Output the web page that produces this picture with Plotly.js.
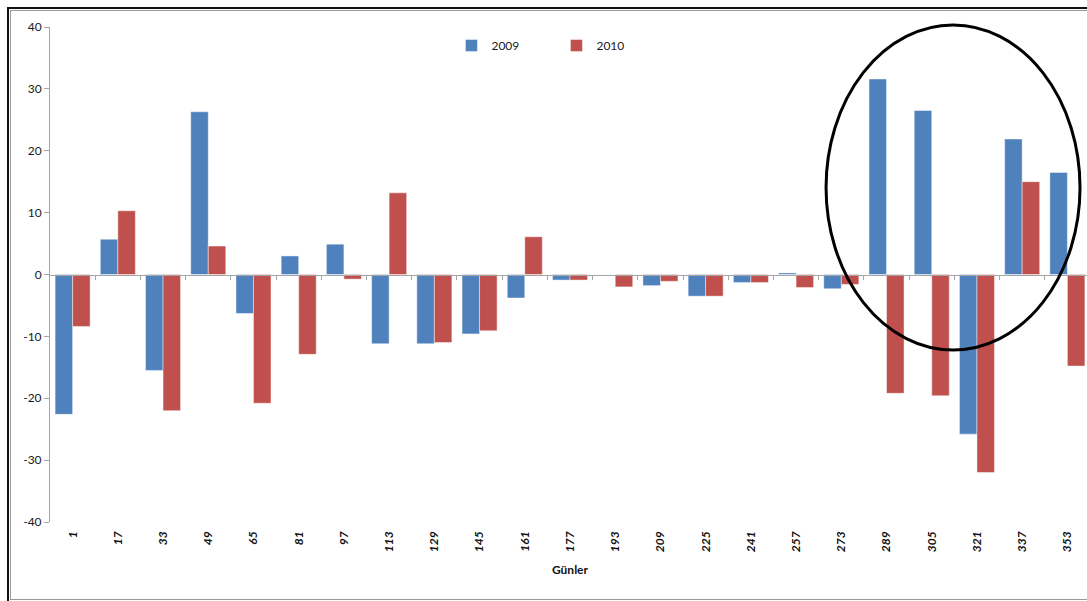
<!DOCTYPE html>
<html>
<head>
<meta charset="utf-8">
<script src="https://cdn.plot.ly/plotly-3.0.1.min.js"></script>
<style>
  html, body { margin: 0; padding: 0; background: #fff; overflow: hidden; width: 1087px; height: 601px; }
  #chart { position: absolute; left: 0; top: 0; width: 1100px; height: 601px; }
  #frameOuter { position: absolute; left: 7px; top: 7px; width: 1200px; height: 700px;
                border-top: 2px solid #111; border-left: 2px solid #111; pointer-events: none; }
  #frameInner { position: absolute; left: 10px; top: 10px; width: 1200px; height: 588px;
                border-top: 1px solid #9a9a9a; border-left: 1px solid #9a9a9a; border-bottom: 1px solid #9a9a9a;
                pointer-events: none; }
</style>
</head>
<body>
<div id="chart"></div>
<div id="frameOuter"></div>
<div id="frameInner"></div>
<script>
// Day-of-year categories (every 16 days)
const days = ['1','17','33','49','65','81','97','113','129','145','161','177',
              '193','209','225','241','257','273','289','305','321','337','353'];

// Values per day for each year
const values2009 = [-22.6, 5.7, -15.5, 26.3, -6.3, 3.0, 4.9, -11.2, -11.2, -9.6, -3.8, -0.9,
                    0.0, -1.8, -3.5, -1.3, 0.25, -2.3, 31.6, 26.5, -25.8, 21.9, 16.5];
const values2010 = [-8.4, 10.3, -22.0, 4.6, -20.8, -12.9, -0.75, 13.2, -11.0, -9.1, 6.1, -0.9,
                    -2.0, -1.1, -3.5, -1.3, -2.1, -1.6, -19.2, -19.6, -32.0, 15.0, -14.8];

const seriesNames = ['2009', '2010'];
const yTicks = [-40, -30, -20, -10, 0, 10, 20, 30, 40];

// Category boundaries where the small tick marks sit on the zero line
const boundaries = days.map((d, i) => i + 0.5);

const baseFont = { family: 'Lato, "Liberation Sans", sans-serif', size: 12, color: '#1a1a1a' };

const traces = [
  {
    type: 'bar', name: seriesNames[0], x: days, y: values2009,
    marker: { color: '#4F81BD', line: { color: 'rgba(255,255,255,0.45)', width: 1 } },
    hoverinfo: 'x+y'
  },
  {
    type: 'bar', name: seriesNames[1], x: days, y: values2010,
    marker: { color: '#C0504D', line: { color: 'rgba(255,255,255,0.45)', width: 1 } },
    hoverinfo: 'x+y'
  },
  // carrier for the zero-line axis with boundary ticks
  { type: 'scatter', x: [null], y: [null], xaxis: 'x2', yaxis: 'y', showlegend: false, hoverinfo: 'skip' }
];

const layout = {
  width: 1100, height: 601,
  margin: { l: 50, r: 10, t: 27, b: 79 },
  paper_bgcolor: '#ffffff', plot_bgcolor: '#ffffff',
  font: baseFont,
  barmode: 'group', bargap: 0.225, bargroupgap: 0,
  showlegend: true,
  legend: {
    orientation: 'h', x: 0.386, y: 0.992, xanchor: 'left', yanchor: 'top',
    font: { family: baseFont.family, size: 12, color: '#1a1a1a' },
    bgcolor: 'rgba(0,0,0,0)', entrywidth: 60, traceorder: 'normal'
  },
  xaxis: {
    type: 'category', categoryorder: 'array', categoryarray: days,
    range: [-0.5, days.length - 0.5],
    showline: false, showgrid: false, zeroline: false, ticks: '',
    tickangle: -90, ticklabelstandoff: 6,
    tickfont: { family: baseFont.family, size: 12, color: '#111', weight: 'bold', style: 'italic' },
    title: { text: 'Günler', standoff: 14, font: { family: baseFont.family, size: 12, color: '#111', weight: 'bold' } }
  },
  xaxis2: {
    overlaying: 'x', anchor: 'free', position: 0.5, type: 'linear',
    range: [-0.5, days.length - 0.5],
    showline: true, linecolor: '#a6a6a6', linewidth: 1,
    ticks: 'outside', ticklen: 4, tickcolor: '#a6a6a6', tickwidth: 1,
    tickvals: boundaries, showticklabels: false,
    showgrid: false, zeroline: false
  },
  yaxis: {
    range: [-40, 40], tickvals: yTicks, ticktext: yTicks.map(String),
    showline: true, linecolor: '#a6a6a6', linewidth: 1,
    ticks: 'outside', ticklen: 5, tickcolor: '#a6a6a6',
    showgrid: false, zeroline: false,
    tickfont: { family: baseFont.family, size: 12, color: '#1a1a1a' }
  },
  shapes: [
    // highlight ring around the late-year days
    { type: 'circle', xref: 'paper', yref: 'paper',
      x0: 0.7462, x1: 0.9904, y0: 0.3475, y1: 1.004,
      line: { color: '#000', width: 3 } }
  ]
};

Plotly.newPlot('chart', traces, layout, { displayModeBar: false, staticPlot: true });
</script>
</body>
</html>
